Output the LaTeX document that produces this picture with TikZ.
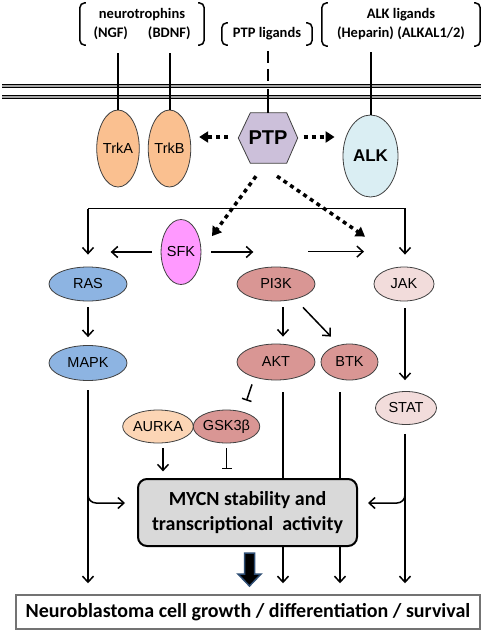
\documentclass[tikz,border=0pt]{standalone}
\usepackage{fontspec}
\newfontfamily\labfont{Liberation Sans}
\newfontfamily\calfont{Carlito}
\usetikzlibrary{shapes.geometric,arrows.meta,calc,backgrounds}
\definecolor{cTrk}{HTML}{FAC090}
\definecolor{cALK}{HTML}{DAEEF3}
\definecolor{cPTP}{HTML}{CCC0DA}
\definecolor{cSFK}{HTML}{FF99FF}
\definecolor{cRAS}{HTML}{8DB4E2}
\definecolor{cPI}{HTML}{D99694}
\definecolor{cJAK}{HTML}{F2DCDB}
\definecolor{cAUR}{HTML}{FCD5B5}
\definecolor{cBox}{HTML}{D9D9D9}
\definecolor{cBig}{HTML}{2E4D73}
\tikzset{
  ell/.style={ellipse, draw=black!75, line width=0.8pt, inner sep=0pt,
    font=\labfont\fontsize{14.5}{16}\selectfont},
  hdr/.style={inner sep=0pt, align=center, font=\calfont\bfseries\fontsize{14.5}{19}\selectfont},
  brk/.style={line width=1.5pt, rounded corners=5pt},
  lig/.style={line width=2pt},
  arr/.style={line width=1.5pt, -{Straight Barb[length=6pt,width=11pt]}},
  inh/.style={line width=1.5pt, -{Bar[width=10pt]}},
  dotarr/.style={line width=3.5pt, dash pattern=on 4pt off 4pt, -{Triangle[length=9pt,width=11pt]}},
  mem/.style={line width=1.3pt, double=black!35, double distance=1.6pt},
  bigarr/.style={fill=black, draw=cBig, line width=1.5pt, line join=miter}
}
\begin{document}
\begin{tikzpicture}[x=1pt,y=-1pt]
\useasboundingbox (0,0) rectangle (484,630);
\begin{pgfonlayer}{background}
\fill[white] (0,0) rectangle (484,630);
\end{pgfonlayer}
% headers
\node[hdr, minimum width=124pt, minimum height=42pt] (G1) at (142,24)
  {neurotrophins\\(NGF)\hspace{20pt}(BDNF)};
\node[hdr, minimum width=90pt, minimum height=22pt] (G2) at (267,34) {PTP ligands};
\node[hdr, minimum width=158pt, minimum height=43pt] (G3) at (401,24.5)
  {ALK ligands\\(Heparin) (ALKAL1/2)};
\foreach \g in {G1,G2,G3}{
  \draw[brk] ($(\g.north west)+(6,0)$) -- (\g.north west) -- (\g.south west) -- ($(\g.south west)+(6,0)$);
  \draw[brk] ($(\g.north east)+(-6,0)$) -- (\g.north east) -- (\g.south east) -- ($(\g.south east)+(-6,0)$);
}
% membrane
\draw[mem] (2,86) -- (481,86);
\draw[mem] (2,97) -- (481,97);
% receptors
\node[ell, fill=cTrk, minimum width=41pt, minimum height=77pt] (TrkA) at (118,148.5) {TrkA};
\node[ell, fill=cTrk, minimum width=41pt, minimum height=77pt] (TrkB) at (169.5,148.5) {TrkB};
\node[ell, fill=cALK, minimum width=55pt, minimum height=82pt, font=\labfont\bfseries\fontsize{17}{18}\selectfont] (ALK) at (370.5,156) {ALK};
\node[minimum width=59pt, minimum height=50pt, inner sep=0pt, font=\labfont\bfseries\fontsize{20}{22}\selectfont] (PTP) at (268,138) {PTP};
\begin{pgfonlayer}{background}
\draw[fill=cPTP, draw=black!75, line width=0.8pt] (PTP.west) -- ($(PTP.north west)+(12,0)$) -- ($(PTP.north east)+(-11,0)$) -- (PTP.east) -- ($(PTP.south east)+(-11,0)$) -- ($(PTP.south west)+(12,0)$) -- cycle;
\end{pgfonlayer}
\draw[lig] (TrkA.north) -- ++(0,-57);
\draw[lig] (TrkB.north) -- ++(0,-57);
\draw[lig] (ALK.north) -- ++(0,-63);
\draw[lig, dash pattern=on 12pt off 6pt] ($(PTP.north)+(0,-62)$) -- ($(PTP.north)+(0,-31)$);
\draw[lig] ($(PTP.north)+(0,-24)$) -- (PTP.north);
% signalling nodes
\node[ell, fill=cSFK, minimum width=39pt, minimum height=65pt] (SFK) at (181,252) {SFK};
\node[ell, fill=cRAS, minimum width=78pt, minimum height=34pt] (RAS) at (88,284) {RAS};
\node[ell, fill=cPI, minimum width=78pt, minimum height=34pt] (PI3K) at (276,284) {PI3K};
\node[ell, fill=cJAK, minimum width=60pt, minimum height=34pt] (JAK) at (404,284) {JAK};
\node[ell, fill=cRAS, minimum width=78pt, minimum height=35pt] (MAPK) at (88,363) {MAPK};
\node[ell, fill=cPI, minimum width=78pt, minimum height=36pt] (AKT) at (276,362) {AKT};
\node[ell, fill=cPI, minimum width=57pt, minimum height=36pt] (BTK) at (349.5,362) {BTK};
\node[ell, fill=cJAK, minimum width=61pt, minimum height=33pt] (STAT) at (406,408) {STAT};
\node[ell, fill=cAUR, minimum width=58pt, minimum height=33pt] (AURKA) at (158,426.5) {AURKA};
\node[ell, fill=cPI, minimum width=59pt, minimum height=33pt] (GSK) at (226.5,426.5) {GSK3β};
\node[draw=black!55, line width=1.5pt, minimum width=464pt, minimum height=34pt, inner sep=0pt,
  font=\calfont\bfseries\fontsize{20}{24}\selectfont] (bot) at (248,612)
  {Neuroblastoma cell growth / differentiation / survival};
% dotted PTP arrows
\draw[dotarr] ($(PTP.west)+(-10,-1)$) -- ($(TrkB.east |- PTP.west)+(8,-1)$);
\draw[dotarr] ($(PTP.east)+(6,-1)$) -- ($(ALK.west |- PTP.west)+(-8,-1)$);
\draw[dotarr] ($(PTP.south)+(-12,13)$) -- ($(SFK.north)+(31,17)$);
\draw[dotarr] ($(PTP.south)+(9,13)$) -- ($(JAK.north)+(-39,-30)$);
% top distribution line
\coordinate (tl) at ($(RAS.north)+(0,-58)$);
\coordinate (tr) at ($(JAK.north)+(1,-58)$);
\draw[arr] (tl) -- (tr) -- ($(JAK.north)+(1,-12)$);
\draw[arr] (tl) -- ($(RAS.north)+(0,-12)$);
% SFK arrows
\draw[arr] ($(SFK.west)+(-9,0)$) -- ($(SFK.west)+(-50,0)$);
\draw[arr] ($(SFK.east)+(10,0)$) -- ($(SFK.east)+(52,0)$);
\draw[arr] ($(PI3K.north)+(32,-15)$) -- ($(JAK.north)+(-40,-15)$);
% cascade arrows
\draw[arr] ($(RAS.south)+(0,6)$) -- ($(MAPK.north)+(0,-8)$);
\draw[arr] ($(PI3K.south)+(7,6)$) -- ($(AKT.north)+(7,-7)$);
\draw[arr] ($(PI3K.south)+(27,6)$) -- ($(BTK.north)+(-18.5,-7)$);
\draw[arr] ($(JAK.south)+(1,7)$) -- ($(STAT.north)+(-1,-11)$);
\draw[inh] ($(AKT.south)+(-24,4)$) -- ($(GSK.north)+(20,-9)$);
\draw[arr] ($(AURKA.south)+(5,5)$) -- ($(AURKA.south)+(5,28)$);
\draw[inh] ($(GSK.south)+(0,5)$) -- ($(GSK.south)+(0,26)$);
% long lines to the output box
\draw[arr] ($(MAPK.south)+(0,9.5)$) -- ($(MAPK.south |- bot.north)+(0,-11)$);
\draw[arr] ($(AKT.south)+(7,12)$) -- ($(AKT.south |- bot.north)+(7,-11)$);
\draw[arr] ($(BTK.south)+(-9.5,12)$) -- ($(BTK.south |- bot.north)+(-9.5,-11)$);
\draw[arr] ($(STAT.south)+(-1,9)$) -- ($(STAT.south |- bot.north)+(-1,-11)$);
% MYCN box
\node[draw=black, fill=cBox, line width=2pt, rounded corners=9pt, minimum width=219pt, minimum height=67pt,
  inner sep=0pt, align=center, font=\calfont\bfseries\fontsize{20}{25}\selectfont] (MYCN) at (247.5,512.5)
  {MYCN stability and\\transcriptional\ \ activity};
\coordinate (bl) at ($(MAPK.south |- MYCN.west)+(0,-9.5)$);
\draw[arr, rounded corners=8pt] ($(bl)+(0,-14)$) -- (bl) -- ($(MYCN.west)+(-12,-9.5)$);
\coordinate (br) at ($(STAT.south |- MYCN.east)+(-1,-9.5)$);
\draw[arr, rounded corners=8pt] ($(br)+(0,-14)$) -- (br) -- ($(MYCN.east)+(10,-9.5)$);
% thick arrow
\coordinate (ta) at ($(MYCN.south)+(2,6)$);
\draw[bigarr] ($(ta)+(-5,0)$) -- ($(ta)+(5,0)$) -- ($(ta)+(5,21)$) -- ($(ta)+(11.5,21)$) -- ($(ta)+(0,33)$) -- ($(ta)+(-11.5,21)$) -- ($(ta)+(-5,21)$) -- cycle;
\end{tikzpicture}
\end{document}
